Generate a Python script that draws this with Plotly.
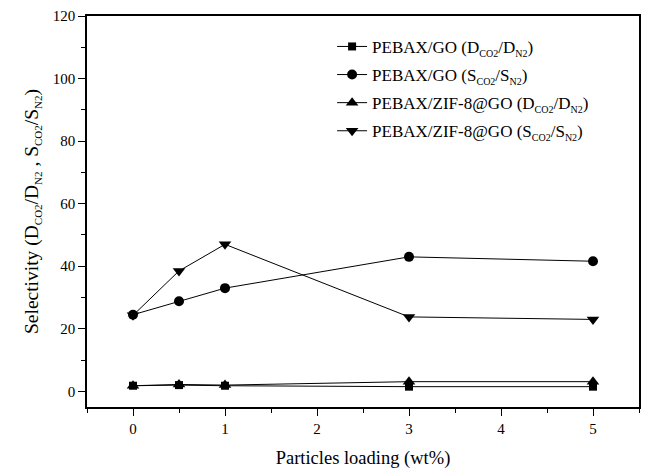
import plotly.graph_objects as go

loading = [0, 0.5, 1, 3, 5]
pebax_go_d = [1.8, 2.0, 1.8, 1.5, 1.5]
pebax_go_s = [24.5, 28.8, 33.0, 43.0, 41.6]
pebax_zif_d = [1.8, 2.2, 2.0, 3.1, 3.1]
pebax_zif_s = [24.3, 38.5, 47.0, 23.8, 23.0]


def sub(t, px):
    return f'<sub><span style="font-size:{px}px">{t}</span></sub>'


names = [
    f"PEBAX/GO (D{sub('CO2', 10)}/D{sub('N2', 10)})",
    f"PEBAX/GO (S{sub('CO2', 10)}/S{sub('N2', 10)})",
    f"PEBAX/ZIF-8@GO (D{sub('CO2', 10)}/D{sub('N2', 10)})",
    f"PEBAX/ZIF-8@GO (S{sub('CO2', 10)}/S{sub('N2', 10)})",
]
series = [pebax_go_d, pebax_go_s, pebax_zif_d, pebax_zif_s]
symbols = ["square", "circle", "triangle-up", "triangle-down"]
sizes = [8, 10, 11, 11]

fig = go.Figure()
for i, (n, s, sym, sz) in enumerate(zip(names, series, symbols, sizes)):
    fig.add_trace(go.Scatter(
        x=loading, y=s, name=n, mode="lines+markers", legendgroup=f"g{i}",
        line=dict(color="black", width=1),
        marker=dict(symbol=sym, size=sz, color="black"),
    ))

font = "Liberation Serif"
ytitle = (f"Selectivity (D{sub('CO2', 11)}/D{sub('N2', 11)} , "
          f"S{sub('CO2', 11)}/S{sub('N2', 11)})")
fig.update_layout(
    width=645, height=470,
    margin=dict(l=87, r=4, t=16, b=63),
    plot_bgcolor="white", paper_bgcolor="white",
    font=dict(family=font, size=15, color="black"),
    showlegend=True,
    legend=dict(x=0.444, y=0.967, xanchor="left", yanchor="top",
                bgcolor="rgba(0,0,0,0)", font=dict(size=17, family=font),
                tracegroupgap=3),
    xaxis=dict(
        range=[-0.5, 5.5], tickvals=[0, 1, 2, 3, 4, 5],
        ticks="outside", ticklen=7, tickwidth=1.2, tickcolor="black",
        minor=dict(dtick=0.5, tick0=0, ticks="outside", ticklen=4, tickwidth=1.2, tickcolor="black"),
        showline=True, linecolor="black", linewidth=1.5, mirror=True,
        showgrid=False, zeroline=False,
        title=dict(text="Particles loading (wt%)", font=dict(size=18.5, family=font), standoff=15),
        tickfont=dict(size=15, family=font),
    ),
    yaxis=dict(
        range=[-5, 120], tickvals=[0, 20, 40, 60, 80, 100, 120],
        ticks="outside", ticklen=7, tickwidth=1.2, tickcolor="black",
        minor=dict(dtick=10, tick0=0, ticks="outside", ticklen=4, tickwidth=1.2, tickcolor="black"),
        showline=True, linecolor="black", linewidth=1.5, mirror=True,
        showgrid=False, zeroline=False,
        title=dict(text=ytitle, font=dict(size=19.5, family=font), standoff=9),
        tickfont=dict(size=15, family=font),
    ),
)

fig.write_html("out.html")
